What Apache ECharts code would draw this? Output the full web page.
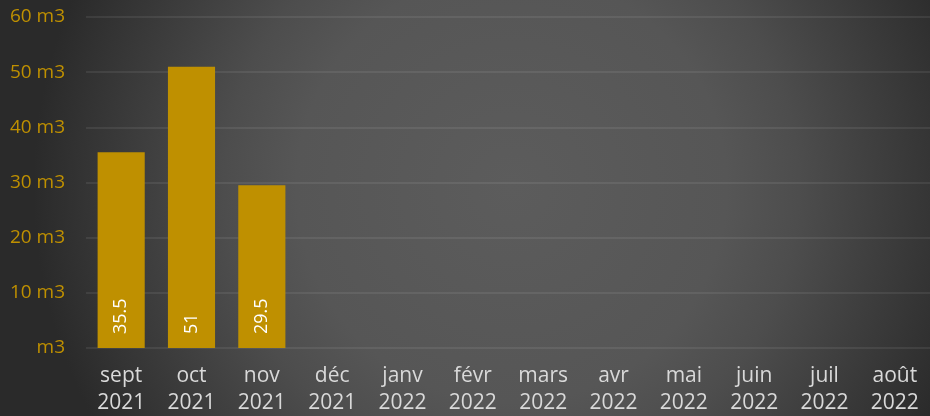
<!DOCTYPE html>
<html>
<head>
<meta charset="utf-8">
<style>
  html, body { margin: 0; padding: 0; background: #2a2a2a; }
  #main { width: 930px; height: 416px; }
</style>
<script src="https://cdn.jsdelivr.net/npm/echarts@6/dist/echarts.min.js"></script>
</head>
<body>
<div id="main"></div>
<script>
  var months = ['sept\n2021', 'oct\n2021', 'nov\n2021', 'déc\n2021', 'janv\n2022', 'févr\n2022',
                'mars\n2022', 'avr\n2022', 'mai\n2022', 'juin\n2022', 'juil\n2022', 'août\n2022'];
  var volumes = [35.5, 51, 29.5, null, null, null, null, null, null, null, null, null];

  var myChart = echarts.init(document.getElementById('main'));
  var option = {
    backgroundColor: new echarts.graphic.RadialGradient(0.55, 0.45, 1.15, [
      { offset: 0, color: '#5c5c5c' },
      { offset: 0.45, color: '#565656' },
      { offset: 0.6, color: '#4d4d4d' },
      { offset: 0.9, color: '#333333' },
      { offset: 1, color: '#2a2a2a' }
    ]),
    animation: false,
    grid: { left: 86, right: 0, top: 17, bottom: 68, outerBoundsMode: 'none' },
    xAxis: {
      type: 'category',
      data: months,
      axisLine: { show: false },
      axisTick: { show: false },
      axisLabel: {
        color: '#d9d9d9',
        fontSize: 21,
        lineHeight: 27,
        margin: 15,
        fontFamily: 'Open Sans'
      }
    },
    yAxis: {
      type: 'value',
      min: 0,
      max: 60,
      interval: 10,
      axisLine: { show: false },
      axisTick: { show: false },
      splitLine: { lineStyle: { color: 'rgba(255,255,255,0.1)', width: 1.5 } },
      axisLabel: {
        color: '#bf9000',
        fontSize: 19,
        margin: 21,
        fontFamily: 'Open Sans',
        formatter: function (v) { return v === 0 ? 'm3' : v + ' m3'; }
      }
    },
    series: [{
      type: 'bar',
      data: volumes,
      barWidth: '67%',
      itemStyle: { color: '#bf9000' },
      label: {
        show: true,
        position: 'insideBottom',
        rotate: 90,
        align: 'left',
        verticalAlign: 'middle',
        distance: 14,
        color: '#ffffff',
        fontSize: 18,
        fontFamily: 'Open Sans'
      }
    }]
  };
  myChart.setOption(option);
</script>
</body>
</html>
